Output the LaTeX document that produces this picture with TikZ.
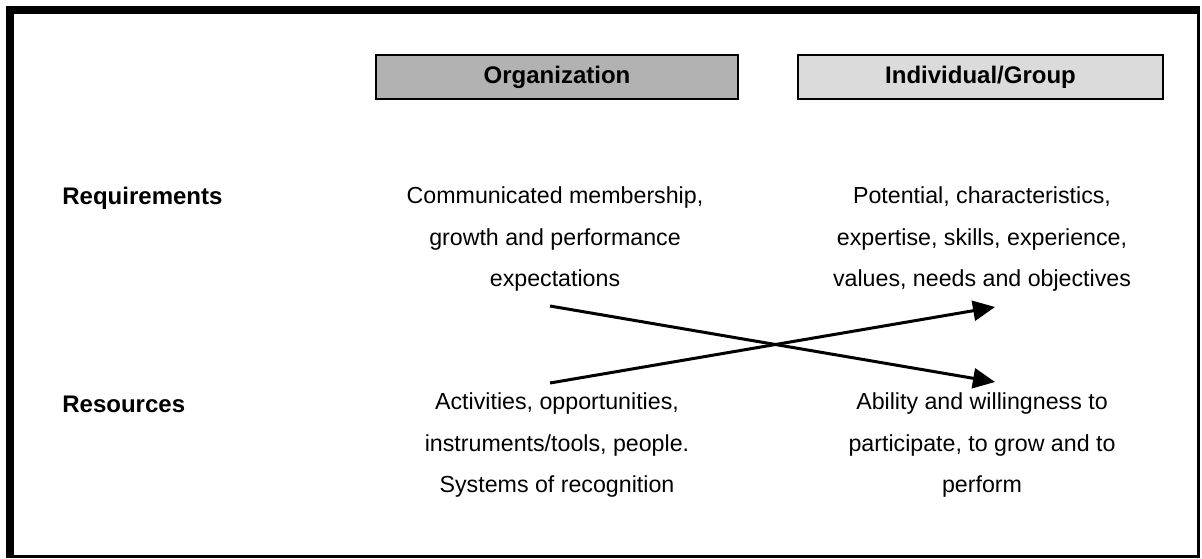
\documentclass[tikz,border=0pt]{standalone}
\usepackage{fontspec}
\setmainfont{Liberation Sans}
\usetikzlibrary{arrows.meta}

\tikzset{
	txt/.style={align=center, inner sep=0pt, font=\fontsize{11.6}{20.7}\selectfont},
	bold/.style={inner sep=0pt, font=\fontsize{12}{14}\selectfont\bfseries},
	head/.style={draw=black, line width=1pt, minimum height=22pt, inner sep=0pt, font=\fontsize{12}{14}\selectfont\bfseries},
	cross/.style={line width=1.5pt, -{Triangle[length=11pt,width=10pt]}}
}

\begin{document}
\begin{tikzpicture}[x=0.5pt,y=-0.5pt]
	\useasboundingbox (0,0) rectangle (1202,558);
	
	% frame
	\draw [line width=1.5pt] (7,8) rectangle (1198.5,556.5);
	\fill (6,6) rectangle (14,558);
	\fill (6,6) rectangle (1200,14);
	
	% column heads
	\node (v1) [head, fill=black!30, minimum width=181pt] at (557,77) {Organization};
	\node (v2) [head, fill=black!14, minimum width=182.5pt] at (980.5,77) {Individual/Group};
	
	% row labels
	\node (v3) [bold, anchor=west] at (62,198) {Requirements};
	\node (v4) [bold, anchor=west] at (62,404) {Resources};
	
	% cells
	\node (v5) [txt] at (555,239) {Communicated membership,\\growth and performance\\expectations};
	\node (v6) [txt] at (982,239) {Potential, characteristics,\\expertise, skills, experience,\\values, needs and objectives};
	\node (v7) [txt] at (557,445) {Activities, opportunities,\\instruments/tools, people.\\Systems of recognition};
	\node (v8) [txt] at (982,445) {Ability and willingness to\\participate, to grow and to\\perform};
	
	% arrows
	\coordinate (v9) at (550,306);
	\coordinate (v10) at (995,382);
	\coordinate (v11) at (550,383);
	\coordinate (v12) at (995,307);
	\draw [cross] (v9) -- (v10);
	\draw [cross] (v11) -- (v12);
\end{tikzpicture}
\end{document}
